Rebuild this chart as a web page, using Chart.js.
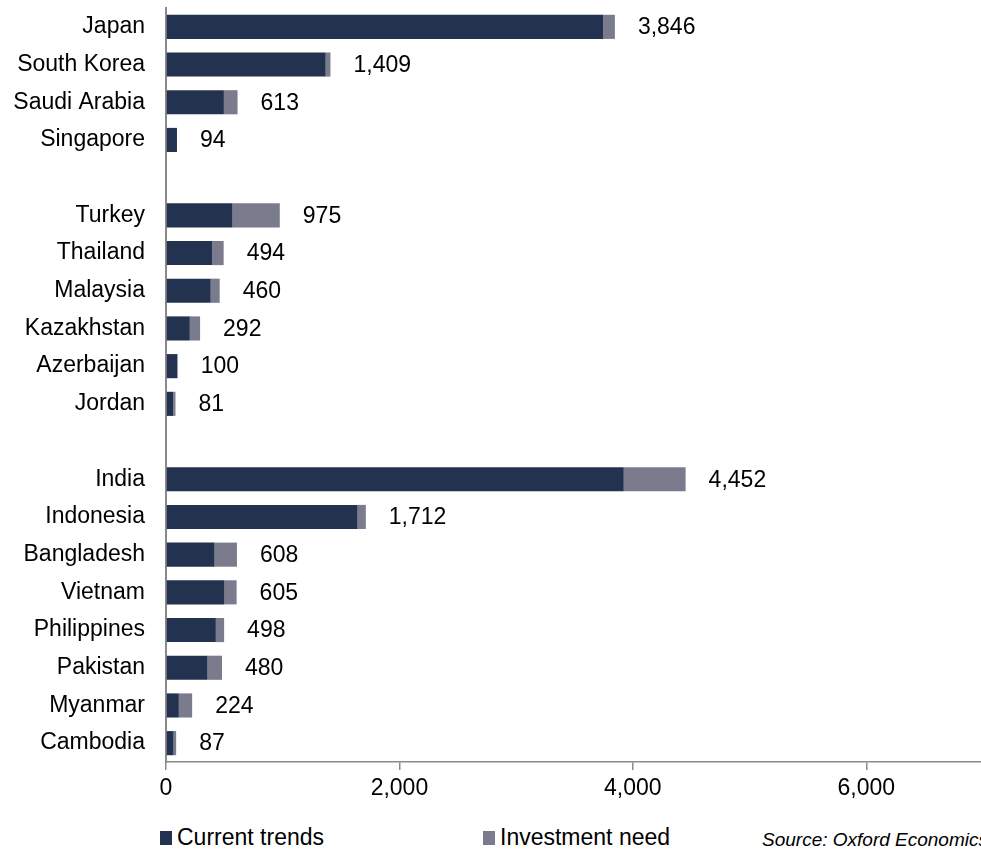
<!DOCTYPE html>
<html>
<head>
<meta charset="utf-8">
<script src="https://cdn.jsdelivr.net/npm/chart.js@4.4.0/dist/chart.umd.min.js"></script>
<style>
    body { margin: 0; background: #fff; overflow: hidden; font-family: "Liberation Sans", Arial, sans-serif; }
    #wrap { position: relative; width: 981px; height: 849px; overflow: hidden; }
    #chart { position: absolute; left: 0; top: 0; }
    .legend-item { position: absolute; top: 824px; font-size: 23px; color: #000; display: flex; align-items: center; white-space: nowrap; }
    .swatch { width: 12px; height: 14px; margin-right: 5px; }
    .source { position: absolute; left: 762px; top: 829px; font-size: 19px; font-style: italic; white-space: nowrap; color: #000; }
</style>
</head>
<body>
<div id="wrap">
    <canvas id="chart" width="988" height="803"></canvas>
    <div class="legend-item" style="left:160px"><span class="swatch" style="background:#23334f"></span>Current trends</div>
    <div class="legend-item" style="left:483px"><span class="swatch" style="background:#7b7b8e"></span>Investment need</div>
    <div class="source">Source: Oxford Economics</div>
</div>
<script>
// Ülkeler (boş satırlar grup aralıkları)
const countries = ['Japan', 'South Korea', 'Saudi Arabia', 'Singapore', '',
    'Turkey', 'Thailand', 'Malaysia', 'Kazakhstan', 'Azerbaijan', 'Jordan', '',
    'India', 'Indonesia', 'Bangladesh', 'Vietnam', 'Philippines', 'Pakistan', 'Myanmar', 'Cambodia'];
const currentTrends = [3745, 1368, 496, 94, null, 570, 394, 383, 204, 97, 62, null,
    3922, 1641, 416, 501, 427, 356, 110, 65];
const investmentNeed = [101, 41, 117, 0, null, 405, 100, 77, 88, 3, 19, null,
    530, 71, 192, 104, 71, 124, 114, 22];
const totals = [3846, 1409, 613, 94, null, 975, 494, 460, 292, 100, 81, null,
    4452, 1712, 608, 605, 498, 480, 224, 87];
const xTicks = [0, 2000, 4000, 6000];

const fontFamily = '"Liberation Sans", Arial, sans-serif';

// Bar sonundaki toplam etiketleri
const totalLabels = {
    id: 'totalLabels',
    afterDatasetsDraw(chart) {
        const ctx = chart.ctx;
        const xs = chart.scales.x;
        const ys = chart.scales.y;
        ctx.save();
        ctx.font = '23px ' + fontFamily;
        ctx.fillStyle = '#000';
        ctx.textAlign = 'left';
        ctx.textBaseline = 'middle';
        totals.forEach(function(t, i) {
            if (t === null) return;
            ctx.fillText(t.toLocaleString('en-US'), xs.getPixelForValue(t) + 23, ys.getPixelForValue(i) + 1);
        });
        ctx.restore();
    }
};

new Chart(document.getElementById('chart'), {
    type: 'bar',
    data: {
        labels: countries,
        datasets: [{
            label: 'Current trends',
            data: currentTrends,
            backgroundColor: '#23334f',
            borderWidth: 0
        }, {
            label: 'Investment need',
            data: investmentNeed,
            backgroundColor: '#7b7b8e',
            borderWidth: 0
        }]
    },
    options: {
        indexAxis: 'y',
        responsive: false,
        animation: false,
        layout: { padding: { top: 8, right: 0, bottom: 0, left: 0 } },
        datasets: {
            bar: { categoryPercentage: 1, barPercentage: 0.64 }
        },
        plugins: {
            legend: { display: false },
            tooltip: { enabled: false }
        },
        scales: {
            x: {
                stacked: true,
                min: 0,
                max: 7000,
                afterBuildTicks: function(scale) {
                    scale.ticks = xTicks.map(v => ({ value: v })).concat([{ value: 7000 }]);
                },
                afterFit: function(scale) { scale.height = 41; },
                ticks: {
                    color: '#000',
                    font: { family: fontFamily, size: 23 },
                    padding: 5,
                    maxRotation: 0,
                    callback: function(value) {
                        return xTicks.includes(value) ? value.toLocaleString('en-US') : '';
                    }
                },
                grid: {
                    drawOnChartArea: false,
                    drawTicks: true,
                    tickLength: 8,
                    color: '#8a8a8a',
                    lineWidth: 1.5
                },
                border: { display: true, color: '#8a8a8a', width: 1.5 }
            },
            y: {
                stacked: true,
                afterFit: function(scale) {
                    scale.width = 166;
                    scale.paddingTop = 0;
                    scale.paddingBottom = 0;
                },
                ticks: {
                    color: '#000',
                    font: { family: fontFamily, size: 23 },
                    padding: 21,
                    autoSkip: false
                },
                grid: { display: false, drawTicks: false },
                border: { display: true, color: '#8a8a8a', width: 2 }
            }
        }
    },
    plugins: [totalLabels]
});
</script>
</body>
</html>
